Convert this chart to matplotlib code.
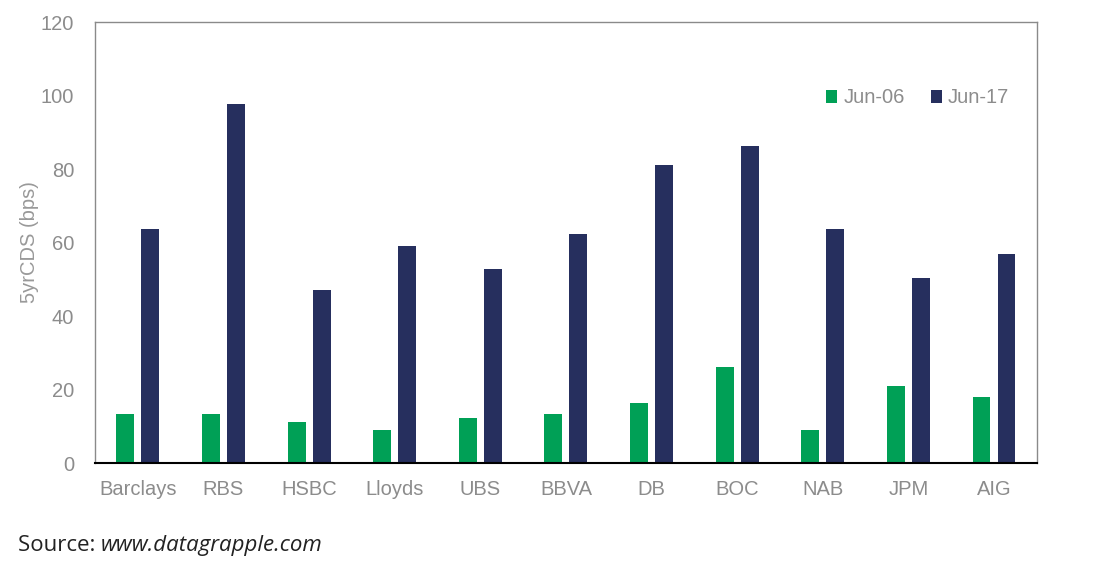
import matplotlib
matplotlib.use('Agg')
import matplotlib.pyplot as plt
import numpy as np

banks = ['Barclays', 'RBS', 'HSBC', 'Lloyds', 'UBS', 'BBVA', 'DB', 'BOC', 'NAB', 'JPM', 'AIG']
jun06 = [13.3, 13.3, 11.2, 9, 12.2, 13.3, 16.3, 26.1, 9, 21, 18]
jun17 = [63.7, 97.7, 47, 59, 52.8, 62.3, 81, 86.3, 63.7, 50.3, 56.9]

green = '#00A056'
navy = '#262F5E'
grey = '#8c8c8c'

plt.rcParams['font.family'] = ['Liberation Sans', 'DejaVu Sans']

fig = plt.figure(figsize=(10.96, 5.70), dpi=100)
ax = fig.add_axes([0.0867, 0.1877, 0.8593, 0.7737])

x = np.arange(len(banks))
w = 0.21
ax.bar(x - 0.146, jun06, w, color=green, label='Jun-06')
ax.bar(x + 0.146, jun17, w, color=navy, label='Jun-17')

ax.set_xlim(-0.5, len(banks) - 0.5)
ax.set_ylim(0, 120)
ax.set_yticks(range(0, 121, 20))
ax.set_xticks(x)
ax.set_xticklabels(banks)
ax.tick_params(length=0, labelsize=14.5, colors=grey, pad=12)
ax.tick_params(axis='y', pad=15)

for s in ['left', 'top', 'right']:
    ax.spines[s].set_color('#8a8a8a')
    ax.spines[s].set_linewidth(1)
ax.spines['bottom'].set_color('black')
ax.spines['bottom'].set_linewidth(1.5)

ax.set_ylabel('5yrCDS (bps)', color='#999999', fontsize=14.5, labelpad=1)

ax.legend(loc='center right', bbox_to_anchor=(0.99, 0.828), ncol=2, frameon=False,
          fontsize=14.5, labelcolor=grey, handlelength=0.55, handleheight=0.6,
          handletextpad=0.3, columnspacing=1.3)

src = fig.text(0.016, 0.043, 'Source: ', fontsize=16, color='#222222',
               family='Open Sans', va='center')
fig.canvas.draw()
bb = src.get_window_extent().transformed(fig.transFigure.inverted())
fig.text(bb.x1, 0.043, 'www.datagrapple.com', fontsize=16, color='#222222',
         family='Open Sans', style='italic', va='center')

fig.savefig('out.png', dpi=100)
